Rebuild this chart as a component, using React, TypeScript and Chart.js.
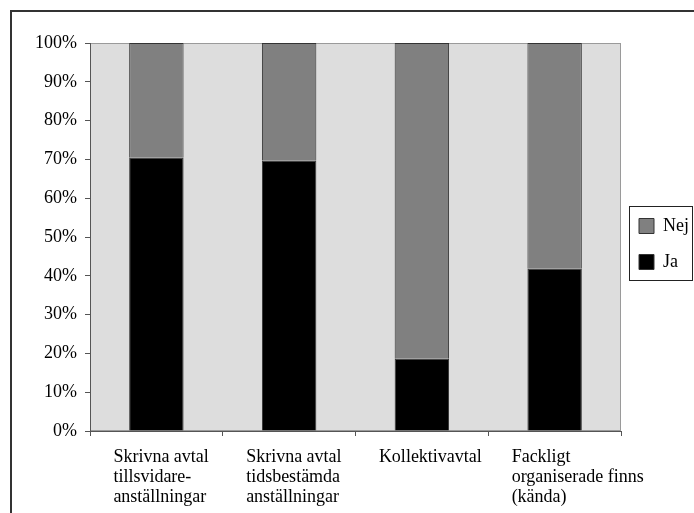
import React, { useEffect, useRef } from 'react';
import { Chart, registerables } from 'chart.js';

Chart.register(...registerables);

const categories: (string | string[])[] = [
  ['Skrivna avtal', 'tillsvidare-', 'anställningar'],
  ['Skrivna avtal', 'tidsbestämda', 'anställningar'],
  'Kollektivavtal',
  ['Fackligt', 'organiserade finns', '(kända)'],
];
const jaValues = [70.4, 69.7, 18.6, 41.8];
const nejValues = [29.6, 30.3, 81.4, 58.2];
const seriesJa = 'Ja';
const seriesNej = 'Nej';
const yMin = 0;
const yMax = 100;
const yStep = 10;

const FONT = "'Liberation Serif', 'Times New Roman', serif";
const LEGEND_PAD = 18;
const LEGEND_FONT = 18;

const plotBg = {
  id: 'plotBg',
  beforeDraw(chart: any) {
    const { ctx, chartArea: a } = chart;
    ctx.save();
    ctx.fillStyle = '#dddddd';
    ctx.fillRect(a.left, a.top, a.right - a.left, a.bottom - a.top);
    ctx.strokeStyle = '#9a9a9a';
    ctx.lineWidth = 1;
    ctx.strokeRect(a.left + 0.5, a.top + 0.5, a.right - a.left - 1, a.bottom - a.top - 1);
    ctx.restore();
  },
};

const legendShift = {
  id: 'legendShift',
  afterLayout(chart: any) {
    const l = chart.legend;
    if (l) {
      l.top += 7;
      l.bottom += 7;
    }
  },
};

const legendBorder = {
  id: 'legendBorder',
  afterDraw(chart: any) {
    const l = chart.legend;
    if (!l) return;
    const { ctx } = chart;
    const colH = 2 * (LEGEND_FONT + LEGEND_PAD);
    const y0 = (l.top + LEGEND_PAD + l.bottom - colH) / 2;
    ctx.save();
    ctx.strokeStyle = '#222';
    ctx.lineWidth = 1;
    ctx.strokeRect(Math.round(l.left + 8) + 0.5, Math.round(y0 - 11) + 0.5, 63, 74);
    ctx.restore();
  },
};

export default function App() {
  const ref = useRef<HTMLCanvasElement>(null);

  useEffect(() => {
    if (!ref.current) return;
    const chart = new Chart(ref.current, {
      type: 'bar',
      data: {
        labels: categories,
        datasets: [
          {
            label: seriesJa,
            data: jaValues,
            backgroundColor: '#000000',
            borderColor: '#333333',
            borderWidth: 1,
            barPercentage: 0.41,
            categoryPercentage: 1,
          },
          {
            label: seriesNej,
            data: nejValues,
            backgroundColor: '#808080',
            borderColor: '#333333',
            borderWidth: 1,
            barPercentage: 0.41,
            categoryPercentage: 1,
          },
        ],
      },
      options: {
        responsive: false,
        animation: false,
        devicePixelRatio: 1,
        layout: { padding: { left: 12, top: 43, right: 0, bottom: 0 } },
        plugins: {
          tooltip: { enabled: false },
          legend: {
            position: 'right',
            fullSize: false,
            reverse: true,
            maxWidth: 73,
            labels: {
              boxWidth: 15,
              boxHeight: 15,
              padding: LEGEND_PAD,
              color: '#000',
              font: { family: FONT, size: LEGEND_FONT },
            },
          },
        },
        scales: {
          x: {
            stacked: true,
            offset: true,
            grid: {
              offset: true,
              drawOnChartArea: false,
              drawTicks: true,
              tickLength: 5,
              tickColor: '#555',
              color: '#555',
            },
            border: { display: true, color: '#555', width: 1 },
            ticks: {
              color: '#000',
              font: { family: FONT, size: 18, lineHeight: 1.11 },
              maxRotation: 0,
              minRotation: 0,
              autoSkip: false,
              align: 'start',
              labelOffset: -43,
              padding: 11,
            },
            afterFit(scale: any) {
              scale.height = 82;
              scale.paddingLeft = 0;
              scale.paddingRight = 0;
            },
          },
          y: {
            stacked: true,
            min: yMin,
            max: yMax,
            grid: {
              drawOnChartArea: false,
              drawTicks: true,
              tickLength: 5,
              tickColor: '#555',
              color: '#555',
            },
            border: { display: true, color: '#555', width: 1 },
            ticks: {
              stepSize: yStep,
              color: '#000',
              font: { family: FONT, size: 18 },
              padding: 8,
              callback: (v: any) => v + '%',
            },
            afterFit(scale: any) {
              scale.width = 78;
              scale.paddingTop = 0;
              scale.paddingBottom = 0;
            },
          },
        },
      },
      plugins: [plotBg, legendShift, legendBorder],
    });
    return () => chart.destroy();
  }, []);

  return (
    <div
      style={{
        position: 'fixed',
        left: 0,
        top: 0,
        width: 694,
        height: 513,
        overflow: 'hidden',
        background: '#fff',
      }}
    >
      <div
        style={{
          position: 'absolute',
          left: 10,
          top: 10,
          width: 800,
          height: 600,
          borderLeft: '2px solid #333',
          borderTop: '2px solid #333',
        }}
      />
      <canvas
        ref={ref}
        width={694}
        height={513}
        style={{ position: 'absolute', left: 0, top: 0, width: 694, height: 513 }}
      />
    </div>
  );
}
